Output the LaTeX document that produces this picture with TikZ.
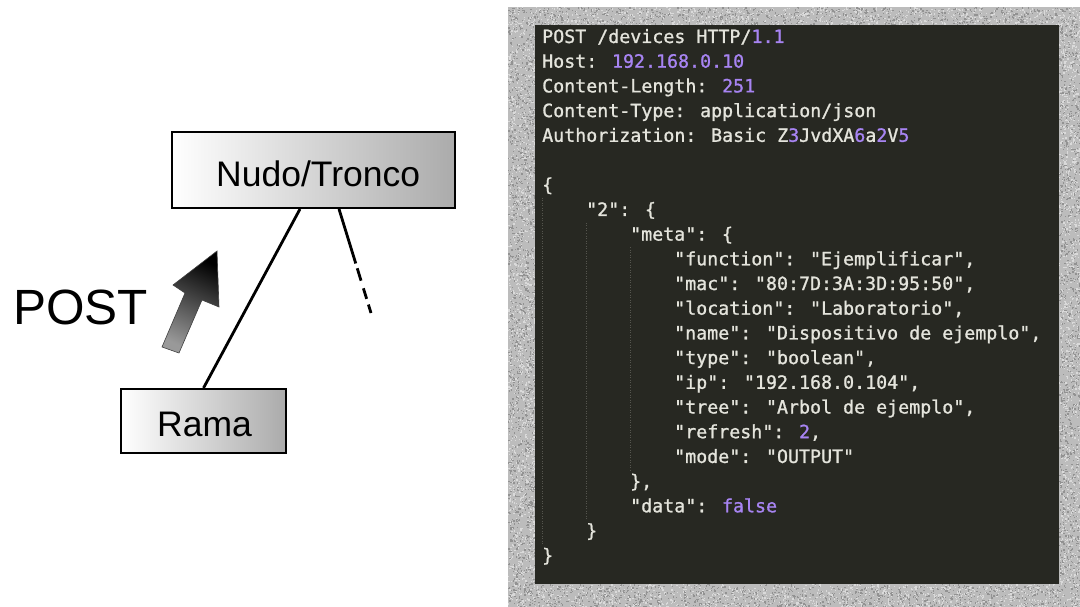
\documentclass[tikz,border=0pt]{standalone}
\usepackage{fontspec}
\setmainfont{Liberation Sans}
\newfontfamily\codefont{DejaVu Sans Mono}[FakeBold=1.1]
\definecolor{panelbg}{HTML}{272822}
\definecolor{codefg}{HTML}{E4E4DC}
\definecolor{codenum}{HTML}{A784F2}
\definecolor{guide}{HTML}{55554E}
\definecolor{stone}{HTML}{BCBCBC}
\definecolor{speckhi}{HTML}{DADADA}
\definecolor{specklo}{HTML}{929292}
\newcommand\cnum[1]{\textcolor{codenum}{#1}}
% random granite specks in a strip: x0, y0, width, height, count
\newcommand\grain[5]{%
  \foreach \k in {1,...,#5}{%
    \pgfmathsetmacro\gx{#1+rnd*#3}%
    \pgfmathsetmacro\gy{#2+rnd*#4}%
    \pgfmathtruncatemacro\gk{2*rnd}%
    \ifnum\gk=0
      \fill[speckhi] (\gx,\gy) rectangle ++(1.3,1.3);%
    \else
      \fill[specklo] (\gx,\gy) rectangle ++(1.3,1.3);%
    \fi
  }}
\tikzset{
  box/.style={draw=black, line width=2pt, left color=white, right color=black!33, inner sep=0pt},
  boxlabel/.style={anchor=base west, inner sep=0pt, font=\fontsize{35.5}{40}\selectfont},
  branch/.style={line width=2.8pt, line cap=butt},
  code/.style={anchor=base west, inner sep=0pt, text=codefg, font=\codefont\fontsize{18.3}{22}\selectfont},
  indentguide/.style={guide, line width=0.8pt, dash pattern=on 1pt off 1.5pt},
  posttip/.style={draw=black!75, line width=0.6pt, top color=black, bottom color=black!40, shading angle=-25}
}
\begin{document}
\begin{tikzpicture}[x=1pt, y=-1pt]
\useasboundingbox (0,0) rectangle (1080,607);

% ---- tree side ----
\node[box, minimum width=283pt, minimum height=76pt] (nudo) at (313.5,170) {};
\node[boxlabel] (nudotxt) at (216,186) {Nudo/Tronco};
\node[box, minimum width=165pt, minimum height=64pt] (rama) at (203.5,421) {};
\node[boxlabel] (ramatxt) at (157,436) {Rama};
\node[anchor=base west, inner sep=0pt, font=\fontsize{49.5}{52}\selectfont] (post) at (13,324) {POST};

\draw[branch] (rama.north) -- ([xshift=-13.5pt]nudo.south);
\coordinate (more) at (371,313);
\draw[branch, dash pattern=on 57pt off 5pt on 13pt off 8pt on 11pt off 6pt on 12pt]
  ([xshift=25.5pt]nudo.south) -- (more);

% thick arrow pointing up towards the trunk
\shadedraw[posttip] (217,251) -- (219,307) -- (202,300) -- (179,353) -- (162,347)
  -- (185,293) -- (173,285) -- cycle;

% ---- request panel ----
\fill[stone] (508,7) rectangle (1080,607);
\pgfmathsetseed{42}
\grain{508}{7}{572}{18}{1700}
\grain{508}{584}{572}{23}{2200}
\grain{508}{25}{27}{559}{2500}
\grain{1059}{25}{21}{559}{1950}
\fill[panelbg] (535,25) rectangle (1059,584);

\draw[indentguide] (542.5,198) -- (542.5,544);
\draw[indentguide] (586.5,223) -- (586.5,519);
\draw[indentguide] (630.5,247) -- (630.5,470);

\node[code] (l0)  at (542,43)    {POST /devices HTTP/\cnum{1.1}};
\node[code] (l1)  at (542,67.7)  {Host: \cnum{192.168.0.10}};
\node[code] (l2)  at (542,92.4)  {Content-Length: \cnum{251}};
\node[code] (l3)  at (542,117.1) {Content-Type: application/json};
\node[code] (l4)  at (542,141.8) {Authorization: Basic Z\cnum{3}JvdXA\cnum{6}a\cnum{2}V\cnum{5}};
\node[code] (l6)  at (542,191.2) {\{};
\node[code] (l7)  at (586,215.9) {"2": \{};
\node[code] (l8)  at (630,240.6) {"meta": \{};
\node[code] (l9)  at (674,265.3) {"function": "Ejemplificar",};
\node[code] (l10) at (674,290)   {"mac": "80:7D:3A:3D:95:50",};
\node[code] (l11) at (674,314.7) {"location": "Laboratorio",};
\node[code] (l12) at (674,339.4) {"name": "Dispositivo de ejemplo",};
\node[code] (l13) at (674,364.1) {"type": "boolean",};
\node[code] (l14) at (674,388.8) {"ip": "192.168.0.104",};
\node[code] (l15) at (674,413.5) {"tree": "Arbol de ejemplo",};
\node[code] (l16) at (674,438.2) {"refresh": \cnum{2},};
\node[code] (l17) at (674,462.9) {"mode": "OUTPUT"};
\node[code] (l18) at (630,487.6) {\},};
\node[code] (l19) at (630,512.3) {"data": \cnum{false}};
\node[code] (l20) at (586,537)   {\}};
\node[code] (l21) at (542,561.7) {\}};
\end{tikzpicture}
\end{document}
